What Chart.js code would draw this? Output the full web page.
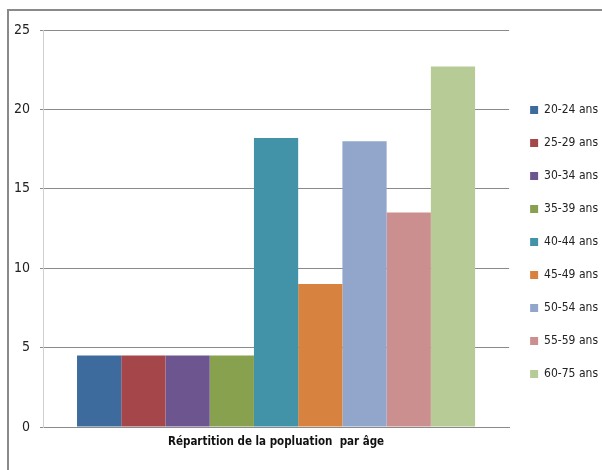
<!DOCTYPE html>
<html>
<head>
<meta charset="utf-8">
<script src="https://cdn.jsdelivr.net/npm/chart.js@4"></script>
<style>
    html, body { margin: 0; padding: 0; background: #fff; overflow: hidden; }
    #wrap { position: relative; width: 602px; height: 470px; }
    #frame { position: absolute; left: 7px; top: 9px; width: 700px; height: 600px; border: 2px solid #8a8a8a; }
    #chart { position: absolute; left: 0; top: 0; }
</style>
</head>
<body>
<div id="wrap">
    <div id="frame"></div>
    <canvas id="chart" width="602" height="470"></canvas>
</div>
<script>
// catégorie unique + une série par tranche d'âge
const categories = ['Répartition de la popluation  par âge'];
const seriesNames = ['20-24 ans', '25-29 ans', '30-34 ans', '35-39 ans', '40-44 ans',
    '45-49 ans', '50-54 ans', '55-59 ans', '60-75 ans'];
const seriesValues = [4.5, 4.5, 4.5, 4.5, 18.2, 9, 18, 13.5, 22.7];
const seriesColors = ['#3d6b9e', '#a5464a', '#6d5590', '#87a14e', '#4293a8',
    '#d7833f', '#92a6cc', '#cc8f8f', '#b6cb96'];
const yMax = 25;
const yStep = 5;

const fontFamily = '"Liberation Sans Narrow", "DejaVu Sans Condensed", Arial, sans-serif';

const datasets = seriesNames.map((name, i) => ({
    label: name,
    data: [seriesValues[i]],
    backgroundColor: seriesColors[i],
    borderWidth: 0,
    barPercentage: 1,
    categoryPercentage: 0.854
}));

const ctx = document.getElementById('chart').getContext('2d');
window.popChart = new Chart(ctx, {
    type: 'bar',
    data: { labels: categories, datasets: datasets },
    options: {
        responsive: false,
        animation: false,
        layout: { padding: { top: 30, right: -6, bottom: 16, left: 0 } },
        plugins: {
            tooltip: { enabled: false },
            legend: {
                position: 'right',
                labels: {
                    boxWidth: 8,
                    boxHeight: 8,
                    padding: 21,
                    color: '#222',
                    font: { family: fontFamily, size: 12 }
                }
            }
        },
        scales: {
            x: {
                grid: { display: false, drawTicks: false },
                border: { display: true, color: '#8a8a8a', width: 1 },
                ticks: {
                    color: '#111',
                    padding: 8,
                    font: { family: fontFamily, size: 11.5, weight: 'bold' }
                },
                afterFit: (scale) => { scale.height = 27; }
            },
            y: {
                min: 0,
                max: yMax,
                grid: { color: '#8a8a8a', lineWidth: 1, tickLength: 3 },
                border: { display: true, color: '#d0d0d0', width: 1 },
                ticks: {
                    stepSize: yStep,
                    color: '#222',
                    padding: 10,
                    font: { family: fontFamily, size: 14 }
                },
                afterFit: (scale) => { scale.width = 43; }
            }
        }
    }
});
</script>
</body>
</html>
